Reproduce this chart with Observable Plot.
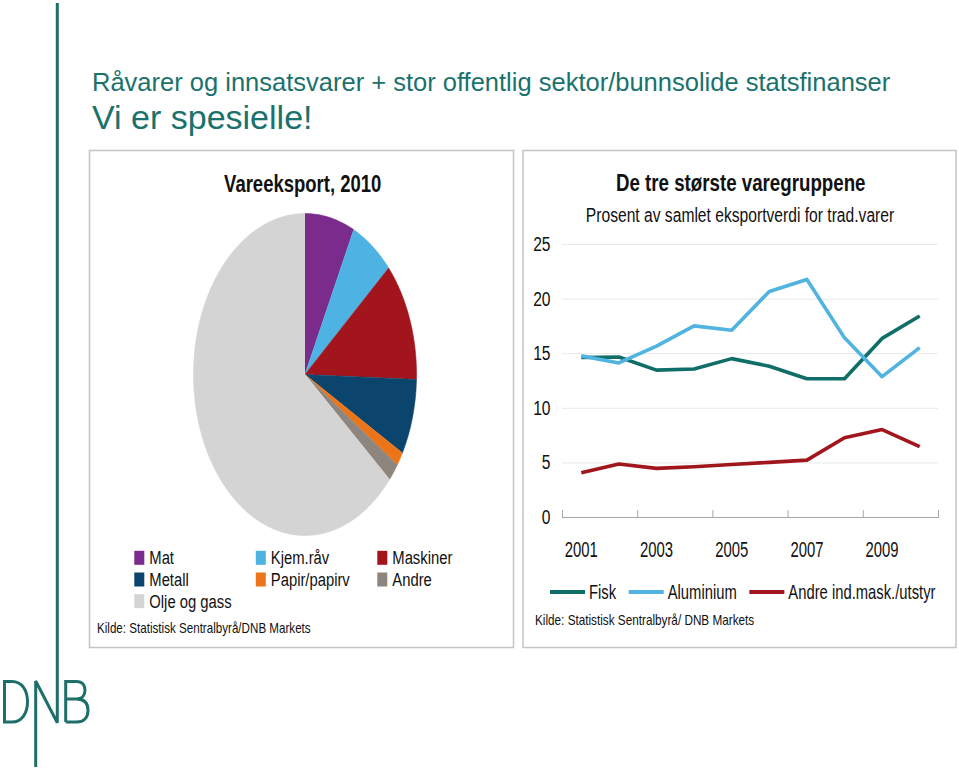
<!DOCTYPE html>
<html>
<head>
<meta charset="utf-8">
<script src="https://cdn.jsdelivr.net/npm/d3@7"></script>
<script src="https://cdn.jsdelivr.net/npm/@observablehq/plot@0.6"></script>
<style>
  html, body { margin: 0; padding: 0; background: #fff; }
  #stage { position: relative; width: 959px; height: 769px; overflow: hidden; background: #fff; }
  .panel { position: absolute; }
</style>
</head>
<body>
<div id="stage"></div>
<script>
// ---------------- DATA ----------------
const slideTitle = "Råvarer og innsatsvarer + stor offentlig sektor/bunnsolide statsfinanser";
const slideSubtitle = "Vi er spesielle!";

const pieTitle = "Vareeksport, 2010";
const pieCategories = ["Mat", "Kjem.råv", "Maskiner", "Metall", "Papir/papirv", "Andre", "Olje og gass"];
const pieShares = [7.2, 6.3, 12.0, 7.6, 1.4, 1.8, 63.7];
const pieColors = ["#7b2b8c", "#4eb3e2", "#a3151d", "#0b446c", "#ec7519", "#8e867e", "#d4d4d4"];
const pieSource = "Kilde: Statistisk Sentralbyrå/DNB Markets";

const lineTitle = "De tre største varegruppene";
const lineSubtitle = "Prosent av samlet eksportverdi for trad.varer";
const years = [2001, 2002, 2003, 2004, 2005, 2006, 2007, 2008, 2009, 2010];
const fisk = [14.65, 14.7, 13.5, 13.6, 14.55, 13.85, 12.7, 12.7, 16.4, 18.45];
const aluminium = [14.8, 14.15, 15.7, 17.55, 17.15, 20.7, 21.8, 16.45, 12.9, 15.55];
const andreInd = [4.1, 4.9, 4.5, 4.65, 4.85, 5.05, 5.25, 7.3, 8.05, 6.5];
const seriesNames = ["Fisk", "Aluminium", "Andre ind.mask./utstyr"];
const seriesColors = ["#106e69", "#50b3e0", "#a1161d"];
const yTicks = [0, 5, 10, 15, 20, 25];
const xTickLabels = [2001, 2003, 2005, 2007, 2009];
const lineSource = "Kilde: Statistisk Sentralbyrå/ DNB Markets";

// ---------------- STYLE ----------------
const FONT = '"Liberation Sans", Arial, Helvetica, sans-serif';
const TEAL = "#1a726d";
const LOGO = "#1e6f6a";
const INK = "#111111";

const stage = d3.select("#stage");

// ---------------- OVERLAY (frames, titles, legends, logo) ----------------
const ov = stage.append("svg")
  .attr("width", 959).attr("height", 769)
  .style("position", "absolute").style("left", "0px").style("top", "0px")
  .attr("font-family", FONT);

function txt(g, x, y, s, o) {
  return g.append("text")
    .attr("transform", `translate(${x},${y}) scale(${o.k || 1},1)`)
    .attr("text-anchor", o.anchor || "start")
    .attr("font-size", o.size)
    .attr("font-weight", o.weight || "normal")
    .attr("fill", o.fill || INK)
    .text(s);
}

// panel frames
ov.append("rect").attr("x", 89.5).attr("y", 150.5).attr("width", 424).attr("height", 497)
  .attr("fill", "none").attr("stroke", "#c4c4c4").attr("stroke-width", 1.5);
ov.append("rect").attr("x", 523).attr("y", 150.5).attr("width", 433).attr("height", 497)
  .attr("fill", "none").attr("stroke", "#c4c4c4").attr("stroke-width", 1.5);

// slide titles
txt(ov, 92, 91, slideTitle, {size: 25.5, fill: TEAL});
txt(ov, 92, 128.5, slideSubtitle, {size: 34, fill: TEAL});

// DNB logo + vertical rule
const lg = ov.append("g").attr("fill", "none").attr("stroke", LOGO).attr("stroke-width", 3);
lg.append("path").attr("d", "M57.3,3 V722.7 L35.7,681 V767");
lg.append("path").attr("d", "M4.5,681.5 V722 H12 C22,722 27.5,713 27.5,701.7 C27.5,690.5 22,681.5 12,681.5 Z");
lg.append("path").attr("d", "M65.7,722 V681.5 H76.5 C82.5,681.5 85,685.5 85,690.3 C85,695 82,699 76.5,699 H65.7 M76.5,699 C84,699 88,703 88,710.5 C88,717.5 84,722 76.5,722 H65.7");

// pie panel texts
txt(ov, 302.7, 191.7, pieTitle, {size: 23.7, weight: "bold", k: 0.78, anchor: "middle"});
pieCategories.forEach((c, i) => {
  const col = i % 3, row = Math.floor(i / 3);
  const sx = 134.3 + col * 121.5;
  const by = 564.3 + row * 21.7;
  ov.append("rect").attr("x", sx).attr("y", by - 13.5).attr("width", 10).attr("height", 14).attr("fill", pieColors[i]);
  txt(ov, sx + 15, by, c, {size: 19, k: 0.78});
});
txt(ov, 97, 633, pieSource, {size: 14, k: 0.83});

// line panel texts
txt(ov, 740.7, 191, lineTitle, {size: 23.7, weight: "bold", k: 0.79, anchor: "middle"});
txt(ov, 740, 221.7, lineSubtitle, {size: 21, k: 0.745, anchor: "middle"});
{
  let x = 550;
  const kL = 0.74;
  seriesNames.forEach((s, i) => {
    ov.append("line").attr("x1", x).attr("x2", x + 35).attr("y1", 592).attr("y2", 592)
      .attr("stroke", seriesColors[i]).attr("stroke-width", 4);
    const t = txt(ov, x + 39, 598.5, s, {size: 20, k: kL});
    x = x + 39 + t.node().getComputedTextLength() * kL + 12.6;
  });
}
txt(ov, 535, 625, lineSource, {size: 14, k: 0.84});

// ---------------- PIE (Plot) ----------------
const pieTable = pieCategories.map((c, i) => ({category: c, share: pieShares[i]}));
const arcs = d3.pie().sort(null).value(d => d.share)(pieTable);
const piePoints = arcs.flatMap(a => {
  const n = Math.max(2, Math.ceil((a.endAngle - a.startAngle) / 0.01));
  const pts = [{x: 0, y: 0, category: a.data.category}];
  for (let j = 0; j <= n; j++) {
    const t = a.startAngle + (a.endAngle - a.startAngle) * j / n;
    pts.push({x: Math.sin(t), y: Math.cos(t), category: a.data.category});
  }
  return pts;
});

const pie = Plot.plot({
  width: 223, height: 322, margin: 0,
  style: {background: "none", overflow: "visible"},
  x: {domain: [-1, 1], axis: null},
  y: {domain: [-1, 1], axis: null},
  color: {domain: pieCategories, range: pieColors},
  marks: [
    Plot.line(piePoints, {x: "x", y: "y", z: "category", fill: "category", stroke: "category", strokeWidth: 0.6, curve: "linear"})
  ]
});
stage.append("div").attr("class", "panel").style("left", "193px").style("top", "213px").node().appendChild(pie);

// ---------------- LINE CHART (Plot) ----------------
const lineData = [];
years.forEach((yr, i) => {
  lineData.push({year: yr, value: fisk[i], series: seriesNames[0]});
  lineData.push({year: yr, value: aluminium[i], series: seriesNames[1]});
  lineData.push({year: yr, value: andreInd[i], series: seriesNames[2]});
});
const xBounds = years.filter((_, i) => i % 2 === 0).map(y => y - 0.5).concat([years[years.length - 1] + 0.5]);
const tickShape = {draw(context, l) { context.moveTo(0, 0); context.lineTo(0, -l); }};

const chart = Plot.plot({
  width: 433, height: 330,
  marginLeft: 39, marginRight: 18, marginTop: 14, marginBottom: 43,
  style: {background: "none", overflow: "visible", fontFamily: FONT, color: INK},
  x: {domain: [years[0] - 0.5, years[years.length - 1] + 0.5]},
  y: {domain: [0, 25]},
  color: {domain: seriesNames, range: seriesColors},
  marks: [
    Plot.gridY(yTicks.slice(1), {stroke: "#e8e8e8", strokeOpacity: 1}),
    Plot.axisY(yTicks, {tickSize: 0, tickPadding: 12, label: null, fontSize: 20, tickFormat: d => String(d)}),
    Plot.ruleY([0], {stroke: "#a8a8a8"}),
    Plot.vector(xBounds, {x: d => d, y: 0, length: 7, anchor: "start", shape: tickShape, stroke: "#a8a8a8", strokeWidth: 1}),
    Plot.axisX(xTickLabels, {tickSize: 0, tickPadding: 24, label: null, fontSize: 21.5, tickFormat: d => String(d)}),
    Plot.line(lineData, {x: "year", y: "value", z: "series", stroke: "series", strokeWidth: 3.6, strokeLinejoin: "round", strokeLinecap: "butt"})
  ]
});
stage.append("div").attr("class", "panel").style("left", "523px").style("top", "230px").node().appendChild(chart);

// condense chart texts horizontally (narrow chart typography)
chart.querySelectorAll("text").forEach(t => {
  const g = t.closest("g[aria-label]");
  const lab = g ? g.getAttribute("aria-label") : "";
  const k = lab.startsWith("y-axis") ? 0.78 : 0.69;
  const L = t.getComputedTextLength();
  if (L > 0) {
    t.setAttribute("textLength", (L * k).toFixed(2));
    t.setAttribute("lengthAdjust", "spacingAndGlyphs");
  }
});
</script>
</body>
</html>
